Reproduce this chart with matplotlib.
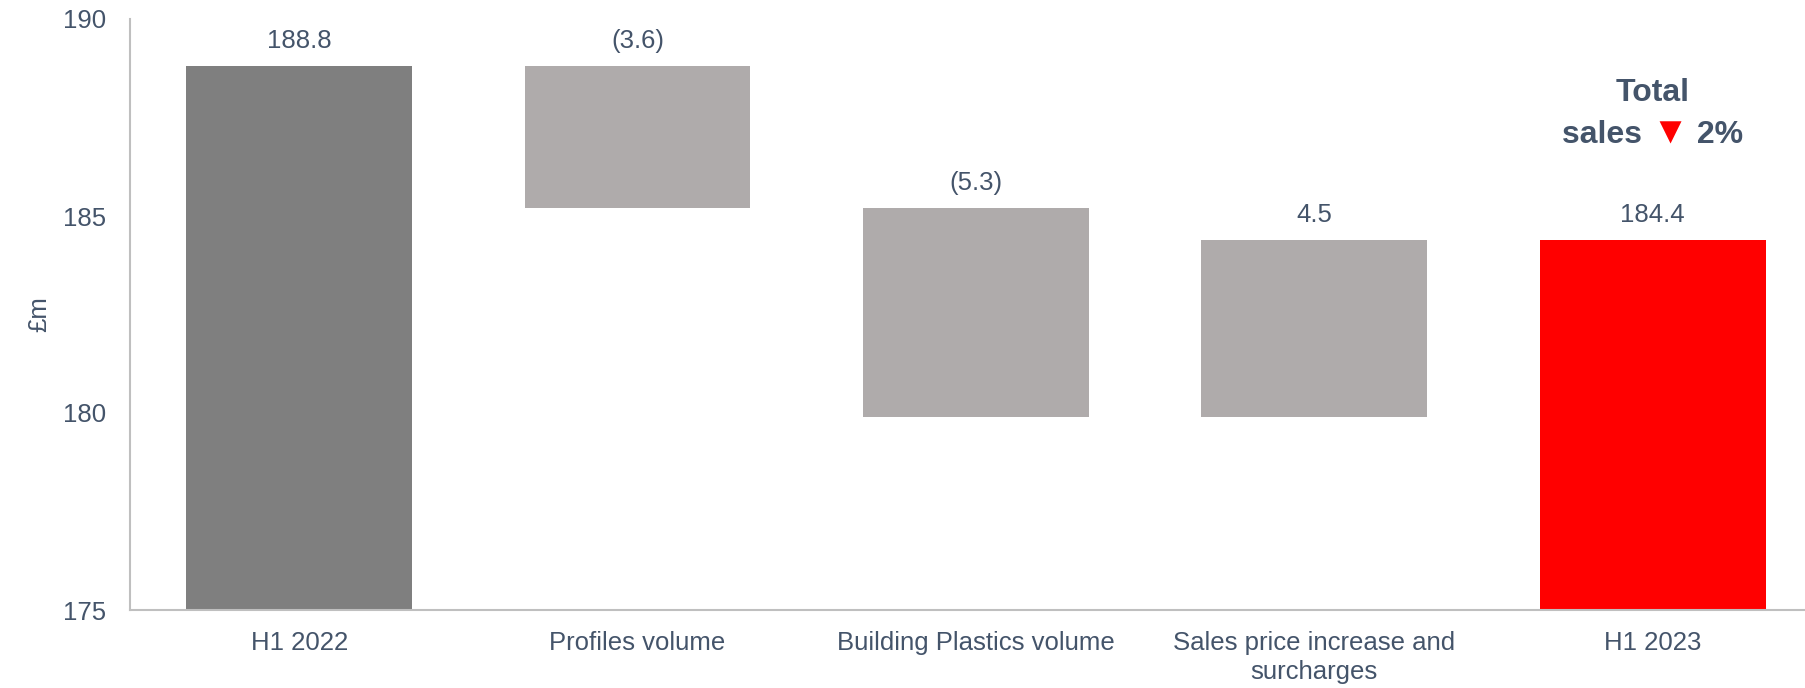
import matplotlib
matplotlib.use("Agg")
import matplotlib.pyplot as plt
from matplotlib.offsetbox import TextArea, HPacker, AnnotationBbox

# ---- data ----
categories = ['H1 2022', 'Profiles volume', 'Building Plastics volume',
              'Sales price increase and\nsurcharges', 'H1 2023']
values = [188.8, -3.6, -5.3, 4.5, 184.4]      # first/last are totals, middle are changes
is_total = [True, False, False, False, True]
value_labels = ['188.8', '(3.6)', '(5.3)', '4.5', '184.4']
y_ticks = [175, 180, 185, 190]

TEXT = '#44546a'
FONT = ['Liberation Sans', 'DejaVu Sans']
plt.rcParams['font.family'] = FONT

fig = plt.figure(figsize=(18.05, 6.88), dpi=100)
ax = fig.add_axes([130/1805, 1 - 610/688, 1 - 130/1805, (610 - 19)/688])

colors = ['#7f7f7f', '#afabab', '#afabab', '#afabab', '#ff0000']

running = 0.0
tops = []
for i, (v, tot) in enumerate(zip(values, is_total)):
    if tot:
        bottom, height = 0, v
        running = v
    else:
        new = running + v
        bottom, height = min(running, new), abs(v)
        running = new
    ax.bar(i, height, bottom=bottom, width=0.667, color=colors[i],
           edgecolor='none', zorder=2)
    tops.append(bottom + height)

for i, (t, lab) in enumerate(zip(tops, value_labels)):
    ax.annotate(lab, (i, t), xytext=(0, 18), textcoords='offset points',
                ha='center', va='center', fontsize=18.5, color=TEXT)

ax.set_ylim(175, 190)
ax.set_xlim(-0.5, 4.45)
ax.set_yticks(y_ticks)
ax.set_yticklabels([str(t) for t in y_ticks])
ax.set_xticks(range(len(categories)))
ax.set_xticklabels(categories, linespacing=1.25)
ax.tick_params(axis='both', length=0, labelsize=18.5, labelcolor=TEXT)
ax.tick_params(axis='y', pad=17)
ax.tick_params(axis='x', pad=15)

for s in ['top', 'right']:
    ax.spines[s].set_visible(False)
for s in ['left', 'bottom']:
    ax.spines[s].set_color('#bfbfbf')
    ax.spines[s].set_linewidth(1.5)

ax.set_ylabel('£m', fontsize=18.5, color=TEXT, labelpad=9)

# "Total sales ▼ 2%" annotation
ax.text(4, 188.12, 'Total', ha='center', va='center', fontsize=23,
        fontweight='bold', color=TEXT)
tp = dict(fontsize=23, fontweight='bold', color=TEXT, family=FONT)
pieces = [TextArea('sales ', textprops=tp),
          TextArea('▼', textprops=dict(tp, color='#ff0000', fontsize=27)),
          TextArea(' 2%', textprops=tp)]
box = HPacker(children=pieces, pad=0, sep=0, align='baseline')
ab = AnnotationBbox(box, (4, 187.1), xycoords='data', frameon=False,
                    box_alignment=(0.5, 0.5), pad=0)
ax.add_artist(ab)

fig.savefig('out.png', dpi=100)
